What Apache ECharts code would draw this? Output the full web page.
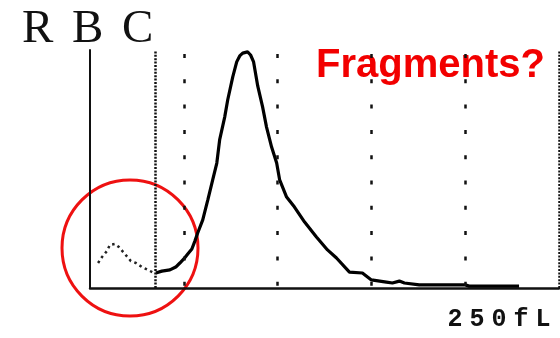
<!DOCTYPE html>
<html>
<head>
<meta charset="utf-8">
<script src="https://cdn.jsdelivr.net/npm/echarts@6/dist/echarts.min.js"></script>
<style>html,body{margin:0;padding:0;background:#fff}#c{width:560px;height:338px}</style>
</head>
<body>
<div id="c"></div>
<script>
// Volume axis (fL) and relative count (% of full scale)
const fragX = [4.3, 6.4, 9.0, 10.6, 13.3, 15.4, 18.6, 21.8, 24.5, 27.7, 30.9, 34.0];
const fragY = [10.5, 13.0, 15.5, 18.1, 18.5, 17.2, 14.3, 11.3, 10.5, 8.8, 7.6, 6.3];

const rbcX = [35.1, 38.3, 42.6, 45.7, 47.9, 50.0, 52.1, 54.3, 55.9, 57.4, 60.1, 62.8, 65.4, 67.6, 69.1, 71.8, 73.4, 76.1, 78.2, 79.8, 81.4, 84.0, 85.6, 87.2, 89.4, 92.0, 94.1, 96.8, 99.5, 101.1, 104.8, 109.0, 114.4, 120.7, 126.6, 131.4, 138.3, 145.2, 150.0, 158.0, 161.2, 164.9, 167.6, 175.5, 200.0, 202.1, 228.7];
const rbcY = [6.3, 7.1, 7.6, 8.8, 10.5, 12.2, 14.3, 16.4, 19.7, 23.1, 28.6, 37.0, 45.4, 52.5, 62.2, 71.8, 79.0, 88.7, 95.0, 97.5, 98.7, 99.2, 97.9, 95.0, 84.9, 76.1, 67.6, 59.2, 52.5, 45.4, 38.2, 34.0, 27.7, 21.4, 16.0, 12.6, 6.7, 6.3, 3.4, 2.5, 2.1, 2.9, 2.1, 1.3, 1.3, 0.8, 0.8];

const gridLinesX = [50, 100, 150, 200];   // coarse dotted guides
const fineLinesX = [35, 250];             // discriminator / upper edge
const xMax = 250;
const xEndLabel = '250fL';
const titleLetters = ['R', 'B', 'C'];
const noteText = 'Fragments?';

const zip = (xs, ys) => xs.map((x, i) => [x, ys[i]]);

const chart = echarts.init(document.getElementById('c'), null, {renderer: 'canvas'});
chart.setOption({
  animation: false,
  backgroundColor: '#fff',
  grid: {left: 90, right: 1, top: 50, bottom: 50},
  xAxis: {
    type: 'value', min: 0, max: xMax, interval: 50,
    axisLine: {show: true, onZero: false, lineStyle: {color: '#111', width: 2.5}},
    axisTick: {show: false},
    splitLine: {show: false},
    axisLabel: {
      show: true, margin: 19, showMinLabel: false, align: 'right', padding: [0, 5, 0, 0],
      formatter: v => v === xMax ? xEndLabel.split('').map(ch => '{a|' + ch + '}').join('') : '',
      rich: {a: {width: 22, align: 'center', fontFamily: 'Liberation Mono', fontWeight: 'bold', fontSize: 25, color: '#111'}}
    }
  },
  yAxis: {
    type: 'value', min: 0, max: 100,
    axisLine: {show: true, lineStyle: {color: '#111', width: 2}},
    axisTick: {show: false}, axisLabel: {show: false}, splitLine: {show: false}
  },
  series: [
    {
      type: 'line', data: zip(fragX, fragY), symbol: 'none', silent: true,
      lineStyle: {color: '#222', width: 2.5, type: [2.5, 3.5], cap: 'butt'},
      markLine: {
        silent: true, symbol: 'none', label: {show: false},
        lineStyle: {color: '#111', width: 2.5, type: [2, 1.4], cap: 'butt'},
        data: fineLinesX.map(x => ({xAxis: x}))
      }
    },
    {
      type: 'line', data: zip(rbcX, rbcY), symbol: 'none', silent: true,
      lineStyle: {color: '#000', width: 3.2},
      markLine: {
        silent: true, symbol: 'none', label: {show: false},
        lineStyle: {color: '#111', width: 2.5, type: [4, 21.3], dashOffset: 23, cap: 'butt'},
        data: gridLinesX.map(x => ({xAxis: x}))
      }
    }
  ],
  graphic: [
    ...titleLetters.map((ch, i) => ({
      type: 'text', left: 22 + i * 50, top: 6,
      style: {text: ch, font: '47px "Liberation Serif"', fill: '#111'}
    })),
    {
      type: 'text', left: 316, top: 46,
      style: {text: noteText, font: 'bold 40px "Liberation Sans"', fill: '#f20000'}
    },
    {
      type: 'circle', shape: {cx: 130, cy: 248, r: 68},
      style: {fill: 'none', stroke: '#ee1111', lineWidth: 3}
    }
  ]
});
</script>
</body>
</html>
